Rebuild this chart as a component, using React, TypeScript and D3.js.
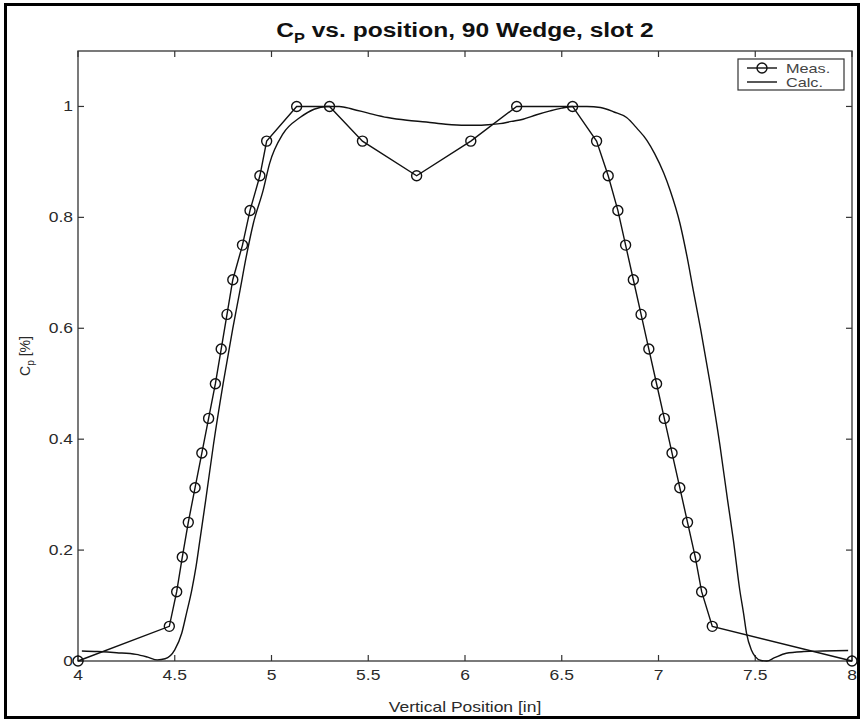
import React from "react";
import * as d3 from "d3";

const measX = [4.0, 4.472, 4.51, 4.539, 4.57, 4.605, 4.64, 4.675, 4.71, 4.74, 4.77, 4.80, 4.85, 4.889, 4.94, 4.975, 5.13, 5.30, 5.47, 5.75, 6.03, 6.267, 6.556, 6.68, 6.74, 6.79, 6.83, 6.87, 6.91, 6.95, 6.99, 7.03, 7.07, 7.11, 7.15, 7.19, 7.223, 7.278, 8.0];
const measY = [0, 0.0625, 0.125, 0.1875, 0.25, 0.3125, 0.375, 0.4375, 0.5, 0.5625, 0.625, 0.6875, 0.75, 0.8125, 0.875, 0.9375, 1.0, 1.0, 0.9375, 0.875, 0.9375, 1.0, 1.0, 0.9375, 0.875, 0.8125, 0.75, 0.6875, 0.625, 0.5625, 0.5, 0.4375, 0.375, 0.3125, 0.25, 0.1875, 0.125, 0.0625, 0];

const calcX = [4.02, 4.1, 4.2, 4.3, 4.36, 4.41, 4.45, 4.5, 4.536, 4.56, 4.588, 4.61, 4.63, 4.66, 4.7, 4.75, 4.8, 4.837, 4.87, 4.906, 4.957, 4.99, 5.06, 5.147, 5.22, 5.285, 5.35, 5.42, 5.5, 5.6, 5.7, 5.8, 5.9, 6.0, 6.06, 6.12, 6.18, 6.24, 6.3, 6.37, 6.44, 6.5, 6.56, 6.63, 6.7, 6.77, 6.835, 6.89, 6.94, 6.98, 7.027, 7.06, 7.111, 7.147, 7.18, 7.217, 7.267, 7.317, 7.357, 7.387, 7.42, 7.44, 7.455, 7.48, 7.5, 7.53, 7.56, 7.6, 7.66, 7.75, 7.85, 7.98];
const calcY = [0.018, 0.017, 0.015, 0.012, 0.007, 0.002, 0.004, 0.02, 0.05, 0.085, 0.128, 0.17, 0.218, 0.29, 0.39, 0.5, 0.6, 0.668, 0.73, 0.789, 0.849, 0.897, 0.951, 0.98, 0.995, 1.0, 1.0, 0.995, 0.988, 0.98, 0.975, 0.972, 0.968, 0.966, 0.966, 0.967, 0.969, 0.973, 0.977, 0.985, 0.992, 0.997, 1.0, 1.0, 0.998, 0.99, 0.98, 0.96, 0.939, 0.915, 0.88, 0.849, 0.789, 0.73, 0.668, 0.6, 0.5, 0.39, 0.29, 0.218, 0.128, 0.085, 0.05, 0.02, 0.008, 0.001, 0.0, 0.006, 0.014, 0.017, 0.018, 0.019];

const xTicks = [4, 4.5, 5, 5.5, 6, 6.5, 7, 7.5, 8];
const xTickLabels = ["4", "4.5", "5", "5.5", "6", "6.5", "7", "7.5", "8"];
const yTicks = [0, 0.2, 0.4, 0.6, 0.8, 1];
const yTickLabels = ["0", "0.2", "0.4", "0.6", "0.8", "1"];

const legendLabels = ["Meas.", "Calc."];

function T(props: { x: number; y: number; anchor?: string; size: number; sx?: number; weight?: string; fill?: string; children: React.ReactNode }) {
  const { x, y, anchor = "start", size, sx = 1.25, weight = "normal", fill = "#222", children } = props;
  return (
    <text transform={`translate(${x},${y}) scale(${sx},1)`} textAnchor={anchor} fontSize={size} fontWeight={weight} fill={fill}>
      {children}
    </text>
  );
}

export default function App() {
  const W = 864, H = 721;
  const left = 78, right = 852, top = 51, bottom = 661;
  const x = d3.scaleLinear().domain([4, 8]).range([left, right]);
  const y = d3.scaleLinear().domain([0, 1.1]).range([bottom, top]);
  const font = "'Liberation Sans', Arial, sans-serif";

  const meas = measX.map((v, i) => [v, measY[i]] as [number, number]);
  const calc = calcX.map((v, i) => [v, calcY[i]] as [number, number]);
  const line = d3.line<[number, number]>().x(d => x(d[0])).y(d => y(d[1]));
  const smooth = d3.line<[number, number]>().x(d => x(d[0])).y(d => y(d[1])).curve(d3.curveMonotoneX);
  const tl = 6;
  const axisColor = "#333";
  const textColor = "#2a2a2a";

  return (
    <svg width={W} height={H} style={{ position: "absolute", left: 0, top: 0, background: "#fff" }} fontFamily={font}>
      <rect x={0} y={0} width={W} height={H} fill="#fff" />
      <rect x={5.5} y={4.5} width={853} height={713} fill="none" stroke="#000" strokeWidth={3} />
      {/* title */}
      <T x={(left + right) / 2} y={37} anchor="middle" size={21} sx={1.17} weight="bold" fill="#111">
        C<tspan fontSize={14} dy={6}>P</tspan><tspan dy={-6}> vs. position, 90 Wedge, slot 2</tspan>
      </T>
      {/* frame */}
      <rect x={left} y={top} width={right - left} height={bottom - top} fill="none" stroke={axisColor} strokeWidth={1.3} />
      {xTicks.map((t, i) => (
        <g key={"xt" + i}>
          <line x1={x(t)} x2={x(t)} y1={bottom} y2={bottom - tl} stroke={axisColor} strokeWidth={1.2} />
          <line x1={x(t)} x2={x(t)} y1={top} y2={top + tl} stroke={axisColor} strokeWidth={1.2} />
          <T x={x(t)} y={bottom + 19} anchor="middle" size={14} fill={textColor}>{xTickLabels[i]}</T>
        </g>
      ))}
      {yTicks.map((t, i) => (
        <g key={"yt" + i}>
          <line x1={left} x2={left + tl} y1={y(t)} y2={y(t)} stroke={axisColor} strokeWidth={1.2} />
          <line x1={right} x2={right - tl} y1={y(t)} y2={y(t)} stroke={axisColor} strokeWidth={1.2} />
          <T x={left - 5} y={y(t) + 5} anchor="end" size={14} fill={textColor}>{yTickLabels[i]}</T>
        </g>
      ))}
      {/* axis labels */}
      <T x={(left + right) / 2} y={712} anchor="middle" size={14} fill={textColor}>Vertical Position [in]</T>
      <text transform={`translate(30,${(top + bottom) / 2}) rotate(-90)`} textAnchor="middle" fontSize={14} fill={textColor}>
        C<tspan fontSize={10} dy={4}>p</tspan><tspan dy={-4}> [%]</tspan>
      </text>
      {/* data */}
      <path d={smooth(calc) ?? ""} fill="none" stroke="#111" strokeWidth={1.4} />
      <path d={line(meas) ?? ""} fill="none" stroke="#111" strokeWidth={1.4} />
      {meas.map((d, i) => (
        <circle key={"m" + i} cx={x(d[0])} cy={y(d[1])} r={5} fill="none" stroke="#111" strokeWidth={1.4} />
      ))}
      {/* legend */}
      <rect x={738} y={59} width={106} height={31} fill="#fff" stroke={axisColor} strokeWidth={1.2} />
      <line x1={747} x2={777} y1={68} y2={68} stroke="#111" strokeWidth={1.4} />
      <circle cx={762} cy={68} r={5} fill="none" stroke="#111" strokeWidth={1.4} />
      <T x={786} y={72.5} size={13} sx={1.25} fill="#444">{legendLabels[0]}</T>
      <line x1={747} x2={777} y1={82} y2={82} stroke="#111" strokeWidth={1.4} />
      <T x={786} y={86.5} size={13} sx={1.25} fill="#444">{legendLabels[1]}</T>
    </svg>
  );
}
